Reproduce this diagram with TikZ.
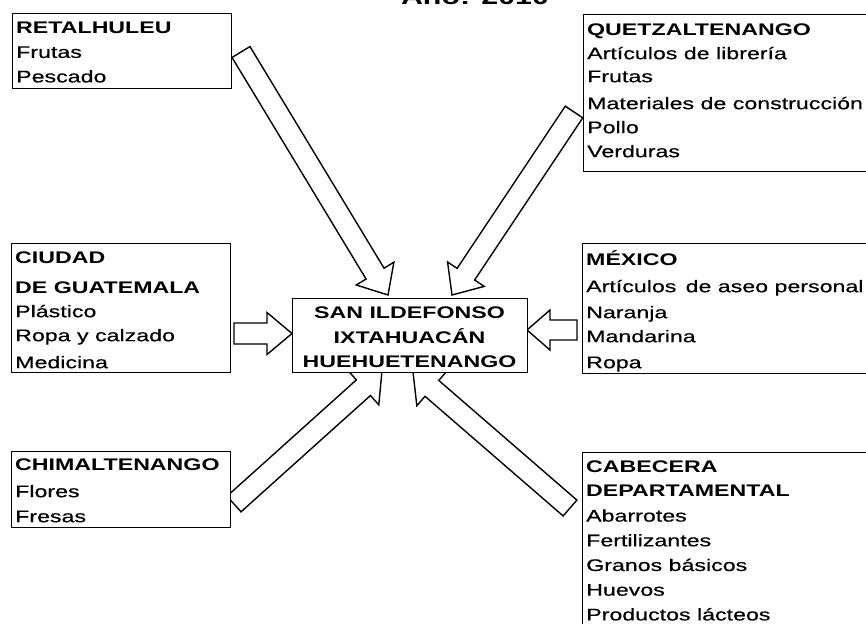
\documentclass[tikz,border=0pt]{standalone}
\usepackage{fontspec}
\setmainfont{Liberation Sans}[FakeStretch=1.38, UprightFeatures={FakeBold=0.5}]
\usetikzlibrary{calc}
\tikzset{
  boxst/.style={draw, line width=1.4pt, fill=white, inner sep=0pt, anchor=north west},
  txt/.style={inner sep=0pt, anchor=north west, align=left, font=\fontsize{16.8}{24}\selectfont},
  ctxt/.style={inner sep=0pt, anchor=north, align=center, font=\fontsize{16.8}{24.5}\bfseries\selectfont},
  arrowline/.style={draw, line width=1.4pt, fill=white, line join=miter},
}
\newcommand\blockarr[5]{% tail, tip, shaft half width, head half width, head length
  \coordinate (#1-#2-b) at ($(#2)!#5!(#1)$);
  \draw[arrowline] ($(#1)!#3!90:(#2)$) -- ($(#1-#2-b)!#3!90:(#2)$) -- ($(#1-#2-b)!#4!90:(#2)$) -- (#2)
     -- ($(#1-#2-b)!#4!-90:(#2)$) -- ($(#1-#2-b)!#3!-90:(#2)$) -- ($(#1)!#3!-90:(#2)$) -- cycle;
}
\begin{document}
\begin{tikzpicture}[x=1pt, y=-1pt]
\useasboundingbox (0,0) rectangle (866,623);
\clip (0,0) rectangle (866,623);
\fill[white] (0,0) rectangle (866,623);

% title (cut at top)
\node[inner sep=0pt, anchor=base, font=\fontsize{22}{26}\bfseries\selectfont] (title) at (475,5) {Año: 2010};

% arrow end points
\coordinate (retA) at (241,52);   \coordinate (retB) at (388,295);
\coordinate (queA) at (574,112);  \coordinate (queB) at (452,295);
\coordinate (ciuA) at (234,333.5);\coordinate (ciuB) at (292,333.5);
\coordinate (mexA) at (577,330);  \coordinate (mexB) at (527,330);
\coordinate (chiA) at (234,504);  \coordinate (chiB) at (382,371);
\coordinate (cabA) at (570,508);  \coordinate (cabB) at (413,372);

\blockarr{retA}{retB}{10.5pt}{22pt}{25pt}
\blockarr{queA}{queB}{10.5pt}{22pt}{25pt}
\blockarr{ciuA}{ciuB}{10.5pt}{21pt}{25pt}
\blockarr{mexA}{mexB}{10pt}{20pt}{23pt}
\blockarr{chiA}{chiB}{10.5pt}{23pt}{25pt}
\blockarr{cabA}{cabB}{10.5pt}{23pt}{25pt}

% boxes
\node[boxst, minimum width=219pt, minimum height=75pt] (ret) at (12,13) {};
\node[boxst, minimum width=300pt, minimum height=157pt] (que) at (583,14) {};
\node[boxst, minimum width=219pt, minimum height=129pt] (ciu) at (11,243) {};
\node[boxst, minimum width=300pt, minimum height=130pt] (mex) at (582,243) {};
\node[boxst, minimum width=235pt, minimum height=74pt] (cen) at (292,298) {};
\node[boxst, minimum width=219pt, minimum height=76pt] (chi) at (11,451) {};
\node[boxst, minimum width=300pt, minimum height=200pt] (cab) at (582,452) {};

% texts
\node[txt] (retT) at (16,16.4) {\strut\textbf{RETALHULEU}\\[0.5pt]Frutas\\[0.5pt]Pescado};
\node[txt] (queT) at (587,18.2) {\strut\textbf{QUETZALTENANGO}\\Artículos de librería\\[-1pt]Frutas\\[3pt]Materiales de construcción\\Pollo\\Verduras};
\node[txt] (ciuT) at (15,246.2) {\strut\textbf{CIUDAD}\\[6pt]\textbf{DE GUATEMALA}\\Plástico\\Ropa y calzado\\[3pt]Medicina};
\node[txt] (mexT) at (586,248.2) {\strut\textbf{MÉXICO}\\[3pt]Artículos\, de aseo personal\\[2pt]Naranja\\Mandarina\\[2pt]Ropa};
\node[ctxt] (cenT) at (409.5,301.2) {\strut SAN ILDEFONSO\\IXTAHUACÁN\\HUEHUETENANGO};
\node[txt] (chiT) at (15,453.2) {\strut\textbf{CHIMALTENANGO}\\[3pt]Flores\\[1pt]Fresas};
\node[txt, font=\fontsize{16.8}{24.7}\selectfont] (cabT) at (586,454.7) {\strut\textbf{CABECERA}\\\textbf{DEPARTAMENTAL}\\Abarrotes\\Fertilizantes\\Granos básicos\\Huevos\\Productos lácteos};
\end{tikzpicture}
\end{document}
